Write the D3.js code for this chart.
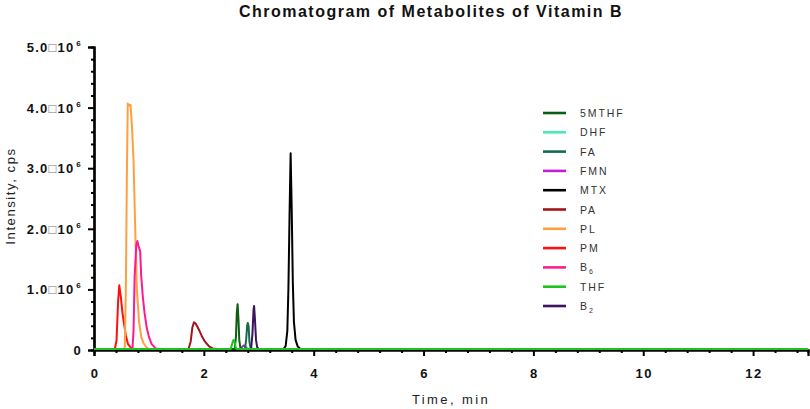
<!DOCTYPE html>
<html>
<head>
<meta charset="utf-8">
<script src="https://cdn.jsdelivr.net/npm/d3@7"></script>
<style>
  body { margin: 0; background: #fff; }
  svg { font-family: "Liberation Sans", Arial, sans-serif; }
  .tick-label { font-weight: bold; font-size: 13px; fill: #111; }
  .axis-title { font-size: 13px; fill: #222; letter-spacing: 1.6px; }
  .legend text { font-size: 10.5px; fill: #333; letter-spacing: 1.9px; }
</style>
</head>
<body>
<div id="chart"></div>
<script>
// series names and colours (legend order)
var seriesNames = ["5MTHF", "DHF", "FA", "FMN", "MTX", "PA", "PL", "PM", "B6", "THF", "B2"];
var seriesColors = ["#0b5e12", "#45ecb8", "#146b4e", "#c41bd6", "#000000", "#a3141a", "#ffa040", "#ff1010", "#ff1b8d", "#1ec41e", "#3d1261"];

// time (min), intensity (x10^6 cps)
var mthf5 = [[0,0],[2.56,0],[2.585,0.2],[2.6,0.6],[2.615,0.74],[2.63,0.5],[2.645,0.15],[2.665,0.02],[2.7,0],[13,0]];
var dhf = [[0,0],[2.74,0],[2.76,0.02],[2.78,0.03],[2.8,0.01],[2.82,0],[13,0]];
var fa = [[0,0],[2.75,0],[2.77,0.15],[2.79,0.4],[2.8,0.43],[2.815,0.38],[2.83,0.12],[2.85,0.02],[2.88,0],[13,0]];
var fmn = [[0,0],[2.68,0],[2.7,0.04],[2.73,0.06],[2.76,0.03],[2.78,0],[13,0]];
var mtx = [[0,0],[3.45,0],[3.49,0.05],[3.52,0.3],[3.54,1.0],[3.56,2.2],[3.58,3.23],[3.6,2.3],[3.62,1.1],[3.64,0.45],[3.67,0.15],[3.71,0.04],[3.76,0],[13,0]];
var pa = [[0,0],[1.72,0],[1.76,0.12],[1.79,0.35],[1.82,0.44],[1.85,0.42],[1.88,0.37],[1.92,0.3],[1.96,0.22],[2.0,0.15],[2.05,0.09],[2.1,0.04],[2.16,0.01],[2.25,0],[13,0]];
var pl = [[0,0],[0.56,0],[0.58,1.0],[0.6,3.0],[0.615,4.05],[0.64,4.02],[0.665,4.03],[0.69,3.7],[0.72,3.1],[0.75,2.0],[0.78,1.0],[0.82,0.45],[0.86,0.2],[0.9,0.1],[0.96,0.02],[1.0,0],[13,0]];
var pm = [[0,0],[0.38,0],[0.41,0.14],[0.44,0.8],[0.46,1.05],[0.49,0.85],[0.52,0.58],[0.55,0.4],[0.58,0.22],[0.62,0.08],[0.68,0.01],[0.75,0],[13,0]];
var b6 = [[0,0],[0.7,0],[0.72,0.3],[0.74,1.2],[0.77,1.72],[0.79,1.78],[0.81,1.7],[0.84,1.62],[0.86,1.2],[0.89,0.85],[0.92,0.6],[0.96,0.35],[1.0,0.2],[1.05,0.08],[1.12,0.01],[1.2,0],[13,0]];
var thf = [[0,0],[2.49,0],[2.52,0.1],[2.54,0.15],[2.56,0.12],[2.58,0.02],[2.6,0],[13,0]];
var b2 = [[0,0],[2.86,0],[2.885,0.25],[2.905,0.65],[2.915,0.71],[2.93,0.5],[2.95,0.15],[2.97,0.03],[3.0,0],[13,0]];

var seriesValues = [mthf5, dhf, fa, fmn, mtx, pa, pl, pm, b6, thf, b2];
// drawing order: baseline ends up green like the original
var drawOrder = [5, 7, 6, 8, 4, 1, 3, 2, 10, 0, 9];

var xMajorTicks = [0, 2, 4, 6, 8, 10, 12];
var yMajorTicks = [0, 1, 2, 3, 4, 5];

var width = 810,
    height = 409,
    margin = {top: 47, right: 2, bottom: 59, left: 94};

var svg = d3.select("#chart").append("svg")
    .attr("width", width)
    .attr("height", height);

var x = d3.scaleLinear()
    .domain([0, 13])
    .range([margin.left, width - margin.right]);

var y = d3.scaleLinear()
    .domain([0, 5])
    .range([height - margin.bottom, margin.top]);

// title
svg.append("text")
    .attr("x", 431)
    .attr("y", 17)
    .attr("text-anchor", "middle")
    .style("font-weight", "bold")
    .style("font-size", "16px")
    .style("letter-spacing", "1.5px")
    .style("fill", "#111")
    .text("Chromatogram of Metabolites of Vitamin B");

// minor ticks
var xMinor = d3.range(0, 13.01, 0.4).filter(function(d) {
    return Math.abs(d / 2 - Math.round(d / 2)) > 0.01;
});
var yMinor = d3.range(0, 5.01, 0.2).filter(function(d) {
    return Math.abs(d - Math.round(d)) > 0.01;
});

var xAxis = d3.axisBottom(x)
    .tickValues(xMajorTicks)
    .tickSize(6)
    .tickFormat("");

var xAxisMinor = d3.axisBottom(x)
    .tickValues(xMinor)
    .tickSize(3)
    .tickFormat("");

var yAxis = d3.axisLeft(y)
    .tickValues(yMajorTicks)
    .tickSize(6)
    .tickFormat("");

var yAxisMinor = d3.axisLeft(y)
    .tickValues(yMinor)
    .tickSize(3)
    .tickFormat("");

svg.append("g")
    .attr("transform", "translate(0," + y(0) + ")")
    .call(xAxis);
svg.append("g")
    .attr("transform", "translate(0," + y(0) + ")")
    .call(xAxisMinor);
svg.append("g")
    .attr("transform", "translate(" + x(0) + ",0)")
    .call(yAxis);
svg.append("g")
    .attr("transform", "translate(" + x(0) + ",0)")
    .call(yAxisMinor);

svg.selectAll(".domain")
    .attr("stroke", "#000")
    .attr("stroke-width", 2.2);
svg.selectAll(".tick line")
    .attr("stroke", "#000")
    .attr("stroke-width", 2);

// x tick labels
svg.selectAll("text.xlab")
    .data(xMajorTicks)
    .enter()
    .append("text")
    .attr("class", "tick-label")
    .attr("x", function(d) { return x(d) + 1; })
    .attr("y", y(0) + 28)
    .attr("text-anchor", "middle")
    .style("letter-spacing", "1.5px")
    .text(function(d) { return d; });

// y tick labels
var ylab = svg.selectAll("text.ylab")
    .data(yMajorTicks)
    .enter()
    .append("text")
    .attr("class", "tick-label")
    .attr("x", x(0) - 12)
    .attr("y", function(d) { return y(d) + 5; })
    .attr("text-anchor", "end")
    .style("letter-spacing", "1.2px");

ylab.filter(function(d) { return d === 0; })
    .text("0");

ylab.filter(function(d) { return d !== 0; })
    .each(function(d) {
        var t = d3.select(this);
        t.append("tspan").text(d.toFixed(1));
        t.append("tspan")
            .style("font-weight", "normal")
            .style("fill", "#777")
            .text("\u25A1");
        t.append("tspan").text("10");
        t.append("tspan")
            .attr("dx", 2)
            .attr("dy", -6)
            .style("font-size", "8px")
            .text("6");
    });

// axis titles
svg.append("text")
    .attr("class", "axis-title")
    .attr("transform", "translate(15," + 196 + ") rotate(-90)")
    .attr("text-anchor", "middle")
    .text("Intensity, cps");

svg.append("text")
    .attr("class", "axis-title")
    .attr("x", 451)
    .attr("y", 404)
    .attr("text-anchor", "middle")
    .style("letter-spacing", "2.4px")
    .text("Time, min");

// traces
var line = d3.line()
    .x(function(d) { return x(d[0]); })
    .y(function(d) { return y(d[1]) - 1; });

svg.append("g")
    .selectAll("path")
    .data(drawOrder)
    .enter()
    .append("path")
    .attr("fill", "none")
    .attr("stroke", function(i) { return seriesColors[i]; })
    .attr("stroke-width", 2)
    .attr("stroke-linejoin", "round")
    .attr("d", function(i) { return line(seriesValues[i]); });

// legend
var legend = svg.append("g")
    .attr("class", "legend")
    .selectAll("g")
    .data(seriesNames)
    .enter()
    .append("g")
    .attr("transform", function(d, i) {
        return "translate(543," + (113 + i * 19.3) + ")";
    });

legend.append("line")
    .attr("x1", 0)
    .attr("x2", 23)
    .attr("stroke", function(d, i) { return seriesColors[i]; })
    .attr("stroke-width", 2.6);

legend.append("text")
    .attr("x", 37)
    .attr("y", 4)
    .each(function(d) {
        var t = d3.select(this);
        if (d === "B6" || d === "B2") {
            t.append("tspan").text("B");
            t.append("tspan")
                .attr("dy", 3)
                .style("font-size", "7px")
                .text(d.slice(1));
        } else {
            t.text(d);
        }
    });
</script>
</body>
</html>
